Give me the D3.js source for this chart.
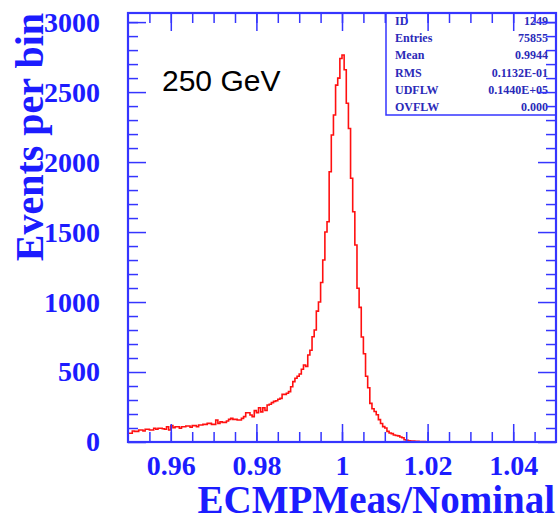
<!DOCTYPE html>
<html>
<head>
<meta charset="utf-8">
<script src="https://cdn.jsdelivr.net/npm/d3@7"></script>
<style>
  html, body { margin: 0; padding: 0; background: #fff; }
  svg { display: block; }
</style>
</head>
<body>
<svg id="chart" width="558" height="520"></svg>
<script>
// Histogram binning: 0.0005 wide bins starting at 0.95
const binStart = 0.95;
const binWidth = 0.0005;

// Events per bin, from 0.95 up to 1.0195 (later bins are empty)
const counts = [
  62, 62, 79, 76, 76, 86, 86, 79, 91, 91,
  86, 86, 98, 91, 98, 98, 95, 91, 109, 86,
  117, 103, 109, 109, 98, 109, 109, 114, 114, 105,
  117, 117, 109, 121, 121, 126, 126, 133, 133, 126,
  126, 157, 133, 145, 140, 140, 150, 162, 169, 162,
  162, 157, 157, 169, 181, 209, 209, 193, 181, 224,
  210, 245, 215, 245, 225, 264, 270, 281, 290, 295,
  305, 312, 340, 340, 348, 360, 395, 431, 455, 470,
  486, 520, 550, 540, 622, 655, 752, 800, 935, 1000,
  1140, 1300, 1500, 1574, 1931, 2193, 2336, 2550, 2600, 2740,
  2765, 2660, 2420, 2240, 1884, 1645, 1407, 1098, 962, 750,
  630, 470, 388, 276, 238, 218, 195, 160, 132, 110,
  100, 76, 64, 60, 50, 46, 44, 36, 30, 16,
  12, 8, 6, 6, 5, 5, 4, 4, 4
];

// Axis ranges and ticks
const xDomain = [0.95, 1.05];
const yDomain = [0, 3065];
const xMajorTicks = [0.96, 0.98, 1.00, 1.02, 1.04];
const xTickLabels = ["0.96", "0.98", "1", "1.02", "1.04"];
const xMinorTicks = [0.955, 0.96, 0.965, 0.97, 0.975, 0.98, 0.985, 0.99, 0.995, 1.00,
                     1.005, 1.01, 1.015, 1.02, 1.025, 1.03, 1.035, 1.04, 1.045];
const yMajorTicks = [0, 500, 1000, 1500, 2000, 2500, 3000];
const yTickLabels = ["0", "500", "1000", "1500", "2000", "2500", "3000"];
const yMinorTicks = [100, 200, 300, 400, 600, 700, 800, 900, 1100, 1200, 1300, 1400,
                     1600, 1700, 1800, 1900, 2100, 2200, 2300, 2400, 2600, 2700, 2800, 2900, 3000];

// Statistics panel
const statNames = ["ID", "Entries", "Mean", "RMS", "UDFLW", "OVFLW"];
const statValues = ["1249", "75855", "0.9944", "0.1132E-01", "0.1440E+05", "0.000"];

const energyLabel = "250 GeV";
const xTitle = "ECMPMeas/Nominal";
const yTitle = "Events per bin";

// Layout
const pLeft = 128, pRight = 556, pTop = 13, pBottom = 442;
const axisBlue = "#3535ff";
const textBlue = "#1c1cff";
const serif = "'Liberation Serif', 'DejaVu Serif', serif";

const svg = d3.select("#chart");
const x = d3.scaleLinear().domain(xDomain).range([pLeft, pRight]);
const y = d3.scaleLinear().domain(yDomain).range([pBottom, pTop]);

// Histogram outline as a step path
const path = d3.path();
path.moveTo(x(binStart), y(0));
counts.forEach((c, i) => {
  const x0 = x(binStart + i * binWidth);
  const x1 = x(binStart + (i + 1) * binWidth);
  path.lineTo(x0, y(c));
  path.lineTo(x1, y(c));
});
path.lineTo(x(binStart + counts.length * binWidth), y(0));

svg.append("path")
  .attr("d", path.toString())
  .attr("fill", "none")
  .attr("stroke", "#ff1010")
  .attr("stroke-width", 1.6)
  .attr("stroke-linejoin", "miter");

// Statistics box
const box = svg.append("g");
const boxLeft = 386, boxBottom = 115;
box.append("rect")
  .attr("x", boxLeft).attr("y", pTop)
  .attr("width", pRight - boxLeft).attr("height", boxBottom - pTop)
  .attr("fill", "#fff")
  .attr("stroke", axisBlue)
  .attr("stroke-width", 1.5);
statNames.forEach((name, i) => {
  const by = 25 + i * 17.2;
  box.append("text")
    .attr("x", boxLeft + 9).attr("y", by)
    .attr("font-family", serif).attr("font-weight", "bold")
    .attr("font-size", 12).attr("fill", "#2a2ab8")
    .text(name);
  box.append("text")
    .attr("x", pRight - 8).attr("y", by)
    .attr("text-anchor", "end")
    .attr("font-family", serif).attr("font-weight", "bold")
    .attr("font-size", 12).attr("fill", "#2a2ab8")
    .text(statValues[i]);
});

// Axes with inward ticks on all four sides
function styleAxis(g, withText) {
  g.select(".domain").remove();
  g.selectAll(".tick line").attr("stroke", axisBlue).attr("stroke-width", 1.5);
  if (withText) {
    g.selectAll(".tick text")
      .attr("fill", textBlue)
      .attr("font-family", serif)
      .attr("font-weight", "bold");
  } else {
    g.selectAll(".tick text").remove();
  }
}

// bottom
svg.append("g").attr("transform", `translate(0,${pBottom})`)
  .call(d3.axisBottom(x).tickValues(xMinorTicks).tickSize(-10).tickFormat(""))
  .call(g => styleAxis(g, false));
svg.append("g").attr("transform", `translate(0,${pBottom})`)
  .call(d3.axisBottom(x).tickValues(xMajorTicks).tickSize(-18).tickPadding(13)
    .tickFormat((d, i) => xTickLabels[i]))
  .attr("font-size", 28)
  .call(g => styleAxis(g, true));
// top
svg.append("g").attr("transform", `translate(0,${pTop})`)
  .call(d3.axisTop(x).tickValues(xMinorTicks).tickSize(-10).tickFormat(""))
  .call(g => styleAxis(g, false));
svg.append("g").attr("transform", `translate(0,${pTop})`)
  .call(d3.axisTop(x).tickValues(xMajorTicks).tickSize(-18).tickFormat(""))
  .call(g => styleAxis(g, false));
// left
svg.append("g").attr("transform", `translate(${pLeft},0)`)
  .call(d3.axisLeft(y).tickValues(yMinorTicks).tickSize(-10).tickFormat(""))
  .call(g => styleAxis(g, false));
svg.append("g").attr("transform", `translate(${pLeft},0)`)
  .call(d3.axisLeft(y).tickValues(yMajorTicks).tickSize(-18).tickPadding(28)
    .tickFormat((d, i) => yTickLabels[i]))
  .attr("font-size", 28)
  .call(g => styleAxis(g, true));
// right
svg.append("g").attr("transform", `translate(${pRight},0)`)
  .call(d3.axisRight(y).tickValues(yMinorTicks).tickSize(-10).tickFormat(""))
  .call(g => styleAxis(g, false));
svg.append("g").attr("transform", `translate(${pRight},0)`)
  .call(d3.axisRight(y).tickValues(yMajorTicks).tickSize(-18).tickFormat(""))
  .call(g => styleAxis(g, false));

// Frame
svg.append("rect")
  .attr("x", pLeft).attr("y", pTop)
  .attr("width", pRight - pLeft).attr("height", pBottom - pTop)
  .attr("fill", "none")
  .attr("stroke", axisBlue)
  .attr("stroke-width", 2.2);

// Titles
svg.append("text")
  .attr("x", pRight - 1).attr("y", 513)
  .attr("text-anchor", "end")
  .attr("font-family", serif).attr("font-weight", "bold")
  .attr("font-size", 39).attr("fill", textBlue)
  .text(xTitle);

svg.append("text")
  .attr("transform", `translate(43,${pTop}) rotate(-90)`)
  .attr("text-anchor", "end")
  .attr("font-family", serif).attr("font-weight", "bold")
  .attr("font-size", 40).attr("fill", textBlue)
  .text(yTitle);

// Beam energy
svg.append("text")
  .attr("x", 162).attr("y", 91)
  .attr("font-family", "'Liberation Sans', Arial, sans-serif")
  .attr("font-size", 30).attr("fill", "#000")
  .text(energyLabel);
</script>
</body>
</html>
